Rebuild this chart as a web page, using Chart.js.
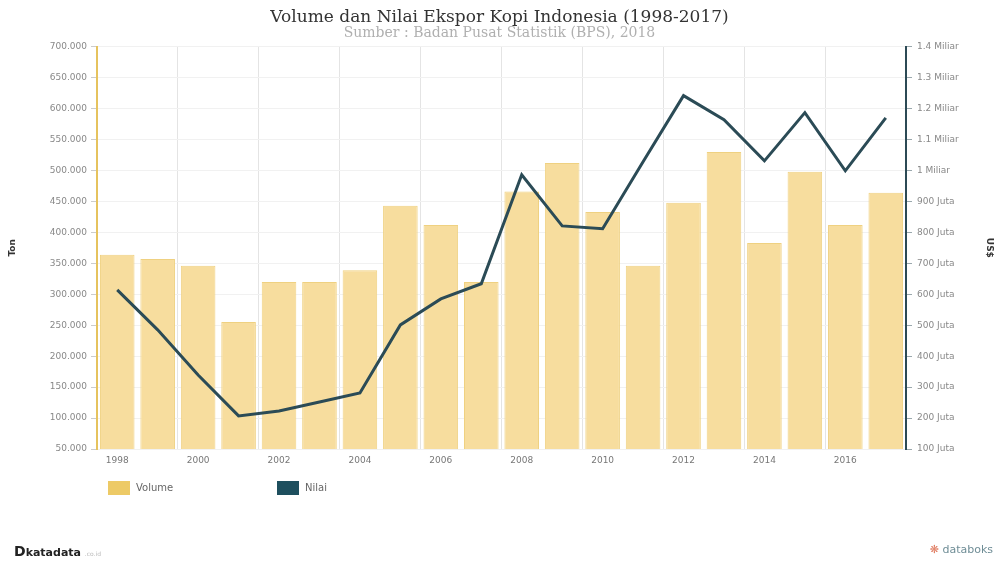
<!DOCTYPE html>
<html>
<head>
<meta charset="utf-8">
<script src="https://cdn.jsdelivr.net/npm/chart.js@4.4.1/dist/chart.umd.min.js"></script>
<style>
  body { margin: 0; background: #fff; }
  #wrap { position: relative; width: 999px; height: 562px; }
  #legend { position: absolute; top: 481px; left: 108px; font: 10px "DejaVu Sans", sans-serif; color: #666; }
  .item { position: absolute; top: 0; white-space: nowrap; }
  .swatch { display: inline-block; width: 22px; height: 14px; vertical-align: middle; margin-right: 6px; }
  #katadata { position: absolute; left: 14px; top: 543px; font: bold 11px "DejaVu Sans", sans-serif; color: #222; }
  #katadata span { font-size: 14px; }
  #katadata small { font-weight: normal; font-size: 6px; color: #bbb; }
  #databoks { position: absolute; right: 6px; top: 543px; font: 11px "DejaVu Sans", sans-serif; color: #6f8d96; }
  #databoks b { color: #e07a5f; font-weight: normal; }
</style>
</head>
<body>
<div id="wrap">
  <canvas id="ekspor" width="999" height="562"></canvas>
  <div id="legend"></div>
  <div id="katadata"><span>D</span>katadata <small>.co.id</small></div>
  <div id="databoks"><b>&#10059;</b> databoks</div>
</div>
<script>
// Tahun
const years = ["1998", "1999", "2000", "2001", "2002", "2003", "2004", "2005", "2006", "2007",
               "2008", "2009", "2010", "2011", "2012", "2013", "2014", "2015", "2016", "2017"];

// Volume ekspor (ton)
const volumeTon = [364000, 357000, 346000, 255000, 320000, 320000, 339000, 443000, 412000, 320000,
                   466000, 512000, 433000, 346000, 448000, 530000, 383000, 498000, 412000, 464000];

// Nilai ekspor (juta US$)
const nilaiJuta = [614, 485, 339, 207, 223, 252, 281, 501, 585, 634,
                   986, 821, 812, 1028, 1242, 1164, 1031, 1187, 999, 1170];

// Axis ranges
const tonMin = 50000, tonMax = 700000, tonStep = 50000;
const usdMin = 100, usdMax = 1400, usdStep = 100;

function formatTon(v) {
    return v.toLocaleString("de-DE");
}

function formatUsd(v) {
    if (v >= 1000) return (v / 1000) + " Miliar";
    return v + " Juta";
}

const tickFont = { family: "DejaVu Sans", size: 9 };

const chart = new Chart(document.getElementById("ekspor"), {
    data: {
        labels: years,
        datasets: [
            {
                type: "line",
                label: "Nilai",
                data: nilaiJuta,
                yAxisID: "yUsd",
                borderColor: "#2b4b56",
                borderWidth: 3,
                pointRadius: 0,
                tension: 0,
                legendColor: "#1e4f5e",
            },
            {
                type: "bar",
                label: "Volume",
                data: volumeTon,
                yAxisID: "yTon",
                backgroundColor: "#f7dd9e",
                borderColor: "#efd181",
                borderWidth: 1,
                barPercentage: 0.9,
                categoryPercentage: 0.95,
                legendColor: "#edca66",
            },
        ],
    },
    options: {
        responsive: false,
        animation: false,
        layout: { padding: { left: 0, right: 0, top: 0, bottom: 93 } },
        plugins: {
            legend: { display: false },
            tooltip: { enabled: false },
            title: {
                display: true,
                text: "Volume dan Nilai Ekspor Kopi Indonesia (1998-2017)",
                color: "#333",
                font: { family: "DejaVu Serif", size: 17, weight: "normal", lineHeight: 1.1 },
                padding: { top: 8, bottom: 0 },
            },
            subtitle: {
                display: true,
                text: "Sumber : Badan Pusat Statistik (BPS), 2018",
                color: "#b0b0b0",
                font: { family: "DejaVu Serif", size: 14, lineHeight: 1.0 },
                padding: { top: 0, bottom: 6 },
            },
        },
        scales: {
            x: {
                offset: true,
                grid: {
                    offset: true,
                    drawTicks: false,
                    color: (ctx) => (ctx.index > 0 && ctx.index % 2 === 0) ? "#e4e4e4" : "rgba(0,0,0,0)",
                },
                border: { display: false },
                ticks: {
                    autoSkip: false,
                    maxRotation: 0,
                    padding: 6,
                    color: "#777",
                    font: tickFont,
                    callback: function (value, index) {
                        return index % 2 === 0 ? this.getLabelForValue(value) : "";
                    },
                },
                afterFit: (scale) => { scale.height = 20; },
            },
            yTon: {
                position: "left",
                min: tonMin,
                max: tonMax,
                ticks: {
                    stepSize: tonStep,
                    padding: 4,
                    color: "#888",
                    font: tickFont,
                    callback: (v) => formatTon(v),
                },
                grid: { color: "#f1f1f1", tickColor: "#ccc", tickLength: 6 },
                border: { color: "#e6c35e", width: 2 },
                title: {
                    display: true,
                    text: "Ton",
                    color: "#333",
                    font: { family: "DejaVu Sans", size: 9, weight: "bold" },
                    padding: { top: 7, bottom: 0 },
                },
                afterFit: (scale) => { scale.width = 97; },
            },
            yUsd: {
                position: "right",
                min: usdMin,
                max: usdMax,
                ticks: {
                    stepSize: usdStep,
                    padding: 5,
                    color: "#888",
                    font: tickFont,
                    callback: (v) => formatUsd(v),
                },
                grid: { drawOnChartArea: false, tickColor: "#9aa8ad", tickLength: 6 },
                border: { color: "#2c4a55", width: 2 },
                title: {
                    display: true,
                    text: "US$",
                    color: "#333",
                    font: { family: "DejaVu Sans", size: 9, weight: "bold" },
                    padding: { top: 4, bottom: 0 },
                },
                afterFit: (scale) => { scale.width = 93; },
            },
        },
    },
});

// HTML legend built from the datasets (Volume first, then Nilai)
const legendEl = document.getElementById("legend");
const legendOffsets = [0, 169];
[1, 0].forEach((dsIndex, i) => {
    const ds = chart.data.datasets[dsIndex];
    const item = document.createElement("div");
    item.className = "item";
    item.style.left = legendOffsets[i] + "px";
    const sw = document.createElement("span");
    sw.className = "swatch";
    sw.style.background = ds.legendColor;
    item.appendChild(sw);
    item.appendChild(document.createTextNode(ds.label));
    legendEl.appendChild(item);
});
</script>
</body>
</html>
